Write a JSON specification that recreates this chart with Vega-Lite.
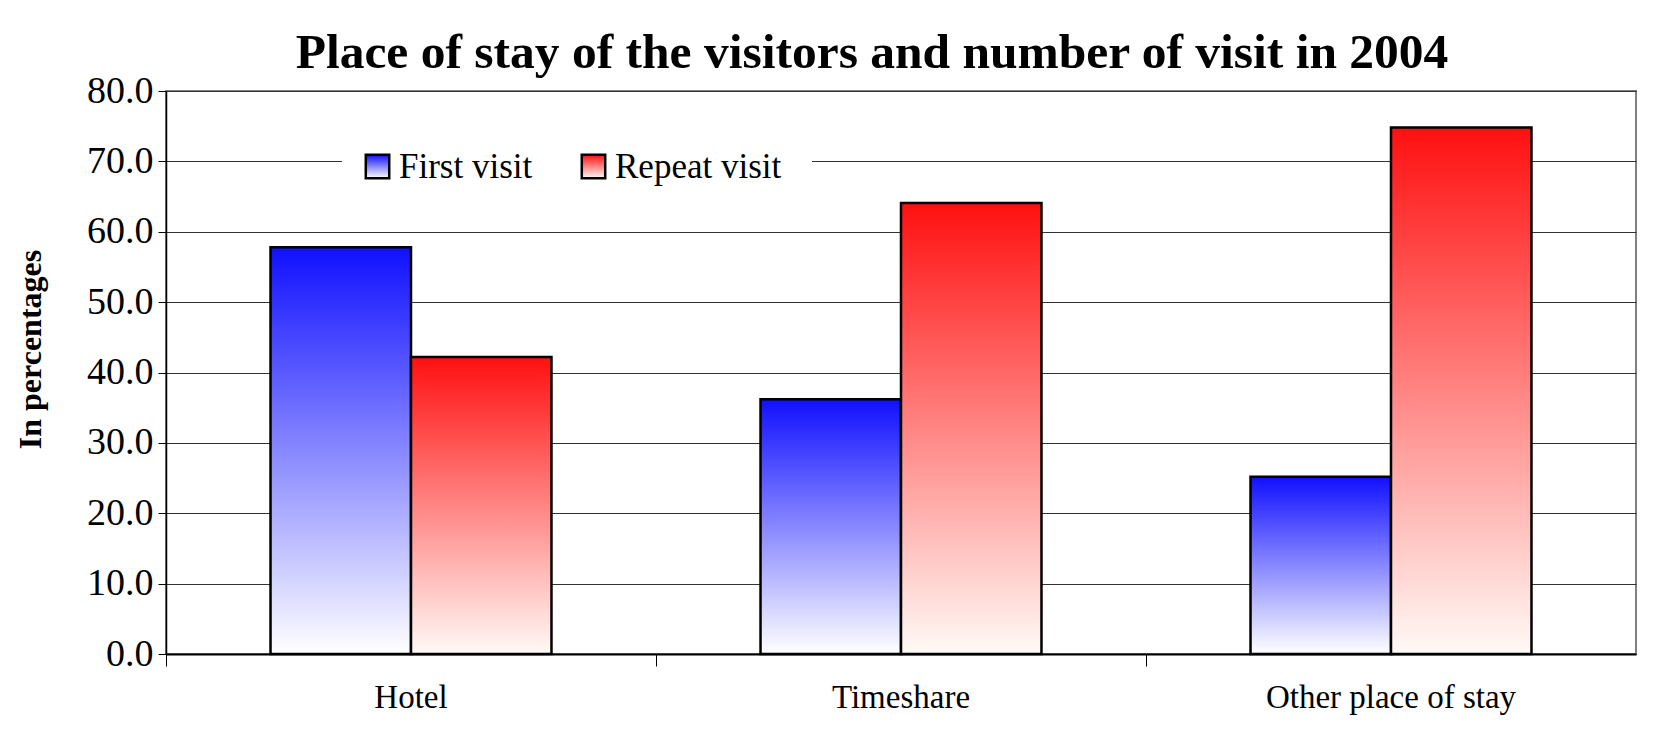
{
  "$schema": "https://vega.github.io/schema/vega-lite/v6.json",
  "autosize": {"type": "none"},
  "padding": {"left": 166, "top": 91, "right": 20, "bottom": 77},
  "width": 1470,
  "height": 563,
  "background": "white",
  "config": {
    "font": "Liberation Serif",
    "view": {"stroke": "#808080", "strokeWidth": 2},
    "legend": {
      "title": null,
      "orient": "none",
      "direction": "horizontal",
      "fillColor": "white",
      "padding": 18,
      "symbolType": "square",
      "symbolSize": 550,
      "symbolStrokeWidth": 2.5,
      "symbolOpacity": 1,
      "labelFont": "Liberation Serif",
      "labelFontSize": 35,
      "labelColor": "black",
      "labelOffset": 4,
      "labelLimit": 400
    }
  },
  "title": {
    "text": "Place of stay of the visitors and number of visit in 2004",
    "font": "Liberation Serif",
    "fontWeight": "bold",
    "fontSize": 49.5,
    "color": "black",
    "anchor": "middle",
    "dx": -29,
    "offset": -6
  },
  "data": {
    "values": [
      {"place": "Hotel", "visit": "First visit", "pct": 57.8},
      {"place": "Hotel", "visit": "Repeat visit", "pct": 42.2},
      {"place": "Timeshare", "visit": "First visit", "pct": 36.2},
      {"place": "Timeshare", "visit": "Repeat visit", "pct": 64.1},
      {"place": "Other place of stay", "visit": "First visit", "pct": 25.2},
      {"place": "Other place of stay", "visit": "Repeat visit", "pct": 74.8}
    ]
  },
  "encoding": {
    "x": {
      "field": "place",
      "type": "nominal",
      "sort": ["Hotel", "Timeshare", "Other place of stay"],
      "scale": {"paddingInner": 0, "paddingOuter": 0},
      "axis": {
        "title": null,
        "labelAngle": 0,
        "labelFont": "Liberation Serif",
        "labelFontSize": 33,
        "labelColor": "black",
        "labelPadding": 15,
        "labelLimit": 500,
        "bandPosition": 0,
        "tickSize": 12,
        "tickColor": "black",
        "domainColor": "black",
        "domainWidth": 2,
        "grid": false
      }
    },
    "xOffset": {
      "field": "visit",
      "type": "nominal",
      "sort": ["First visit", "Repeat visit"],
      "scale": {"domain": ["First visit", "Repeat visit"], "paddingInner": 0, "paddingOuter": 0.744}
    },
    "y": {
      "field": "pct",
      "type": "quantitative",
      "scale": {"domain": [0, 80], "nice": false},
      "axis": {
        "title": "In percentages",
        "titleFont": "Liberation Serif",
        "titleFontWeight": "bold",
        "titleFontSize": 32,
        "titleColor": "black",
        "titleX": -119,
        "titleY": 258,
        "values": [0, 10, 20, 30, 40, 50, 60, 70, 80],
        "format": ".1f",
        "labelFont": "Liberation Serif",
        "labelFontSize": 38,
        "labelColor": "black",
        "labelPadding": 5,
        "tickSize": 8,
        "tickColor": "black",
        "domainColor": "black",
        "domainWidth": 1.5,
        "grid": true,
        "gridColor": "#333333",
        "gridWidth": 1
      }
    }
  },
  "layer": [
    {
      "transform": [{"filter": "datum.visit === 'First visit'"}],
      "mark": {
        "type": "bar",
        "strokeWidth": 2.5,
        "fillOpacity": 1,
        "fill": {"gradient": "linear", "x1": 0, "y1": 0, "x2": 0, "y2": 1, "stops": [{"offset": 0, "color": "#1010ff"}, {"offset": 1, "color": "#ffffff"}]}
      },
      "encoding": {
        "stroke": {
          "field": "visit",
          "type": "nominal",
          "scale": {"range": ["black"]},
          "legend": {"legendX": 176, "legendY": 40}
        }
      }
    },
    {
      "transform": [{"filter": "datum.visit === 'Repeat visit'"}],
      "mark": {
        "type": "bar",
        "strokeWidth": 2.5,
        "fillOpacity": 1,
        "fill": {"gradient": "linear", "x1": 0, "y1": 0, "x2": 0, "y2": 1, "stops": [{"offset": 0, "color": "#ff1010"}, {"offset": 1, "color": "#fffaf6"}]}
      },
      "encoding": {
        "stroke": {
          "field": "visit",
          "type": "nominal",
          "scale": {"range": ["black"]},
          "legend": {"legendX": 380, "legendY": 28, "padding": 30}
        }
      }
    }
  ],
  "resolve": {"scale": {"stroke": "independent"}, "legend": {"stroke": "independent"}}
}
